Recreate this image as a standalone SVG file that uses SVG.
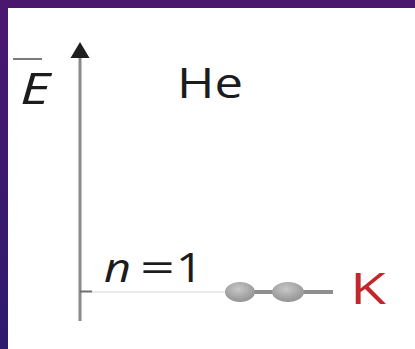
<svg xmlns="http://www.w3.org/2000/svg" width="415" height="349" viewBox="0 0 415 349">
  <defs>
    <linearGradient id="bg" x1="0" y1="0" x2="0" y2="1">
      <stop offset="0" stop-color="#4a176e"/>
      <stop offset="1" stop-color="#2e1b6c"/>
    </linearGradient>
    <radialGradient id="ball" cx="0.45" cy="0.35" r="0.7">
      <stop offset="0" stop-color="#c8c8c8"/>
      <stop offset="1" stop-color="#8e8e8e"/>
    </radialGradient>
    <style>
      .lbl { font-family: "Open Sans", "Liberation Sans", sans-serif; fill: #1c1c1c; }
      .axis { stroke: #8a8a8a; stroke-width: 3; fill: none; }
    </style>
  </defs>
  <rect x="0" y="0" width="415" height="349" fill="url(#bg)"/>
  <rect x="8" y="8" width="407" height="341" fill="#ffffff"/>

  <g id="connectors">
    <line class="axis" x1="80" y1="56" x2="80" y2="321"/>
    <path d="M80,42 L89.5,58 L70.5,58 Z" fill="#1e1e1e"/>
    <line x1="80" y1="291.5" x2="92" y2="291.5" stroke="#6e6e6e" stroke-width="2"/>
    <line x1="92" y1="292" x2="226" y2="292" stroke="#d6d6d6" stroke-width="1.2"/>
  </g>

  <g id="axis-label-E">
    <line x1="13" y1="59" x2="42" y2="59" stroke="#333" stroke-width="1.3"/>
    <text class="lbl" x="20" y="104" font-size="43" font-style="italic" textLength="30" lengthAdjust="spacingAndGlyphs">E</text>
  </g>

  <g id="label-He">
    <text class="lbl" x="177" y="98" font-size="42" textLength="66" lengthAdjust="spacingAndGlyphs">He</text>
  </g>

  <g id="level-n1">
    <text class="lbl" x="104" y="282" font-size="40" font-style="italic" textLength="27" lengthAdjust="spacingAndGlyphs">n</text>
    <text class="lbl" x="140" y="282" font-size="40" textLength="35" lengthAdjust="spacingAndGlyphs">=</text>
    <text class="lbl" x="176" y="282" font-size="40" textLength="27" lengthAdjust="spacingAndGlyphs">1</text>
  </g>

  <g id="shell-K">
    <line x1="228" y1="292" x2="333" y2="292" stroke="#8e8e8e" stroke-width="4"/>
    <ellipse cx="240" cy="292" rx="15" ry="10" fill="url(#ball)"/>
    <ellipse cx="288" cy="292" rx="16" ry="10" fill="url(#ball)"/>
    <text x="350" y="304" font-family="Open Sans, Liberation Sans, sans-serif" font-size="43" fill="#c4262e" textLength="36" lengthAdjust="spacingAndGlyphs">K</text>
  </g>
</svg>
